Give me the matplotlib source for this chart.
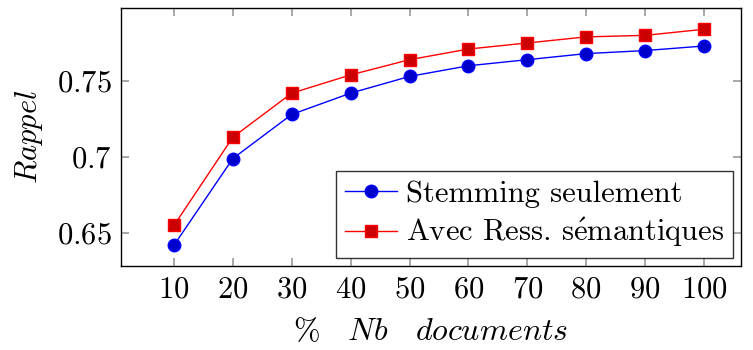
import matplotlib.pyplot as plt

# data
nb_docs = [10, 20, 30, 40, 50, 60, 70, 80, 90, 100]
stemming = [0.642, 0.699, 0.728, 0.742, 0.753, 0.760, 0.764, 0.768, 0.770, 0.773]
semantique = [0.655, 0.713, 0.742, 0.754, 0.764, 0.771, 0.775, 0.779, 0.780, 0.784]

plt.rcParams['font.family'] = ['cmr10', 'DejaVu Serif']
plt.rcParams['mathtext.fontset'] = 'cm'
plt.rcParams['axes.formatter.use_mathtext'] = True

fig = plt.figure(figsize=(7.53, 3.5), dpi=100)
ax = fig.add_axes([121 / 753, 84 / 350, 620 / 753, 258 / 350])

ax.plot(nb_docs, stemming, color='blue', marker='o', markersize=9,
        markerfacecolor='#0000cc', markeredgecolor='blue', linewidth=1,
        label='Stemming seulement')
ax.plot(nb_docs, semantique, color='red', marker='s', markersize=9,
        markerfacecolor='#cc0000', markeredgecolor='red', linewidth=1,
        label=r'Avec Ress. s$\mathrm{\acute{e}}$mantiques')

ax.set_xlim(1.0, 106.3)
ax.set_ylim(0.6283, 0.798)
ax.set_xticks(nb_docs)
ax.set_xticklabels([f'${v}$' for v in nb_docs])
ax.set_yticks([0.65, 0.7, 0.75])
ax.set_yticklabels(['$0.65$', '$0.7$', '$0.75$'])

ax.tick_params(direction='in', length=6, color='#999999', width=1.2,
               top=True, right=True, labelsize=22, pad=7)
for s in ax.spines.values():
    s.set_linewidth(1.0)

ax.set_xlabel(r'$\%\quad Nb\quad documents$', fontsize=23, labelpad=10)
ax.set_ylabel(r'$Rappel$', fontsize=22, labelpad=8)

leg = ax.legend(loc='lower right', fontsize=22, frameon=True, fancybox=False,
                edgecolor='black', handlelength=1.7, borderpad=0.3,
                labelspacing=0.25, handletextpad=0.3, borderaxespad=0.25)
leg.get_frame().set_linewidth(1.0)

fig.savefig('out.png', dpi=100)
